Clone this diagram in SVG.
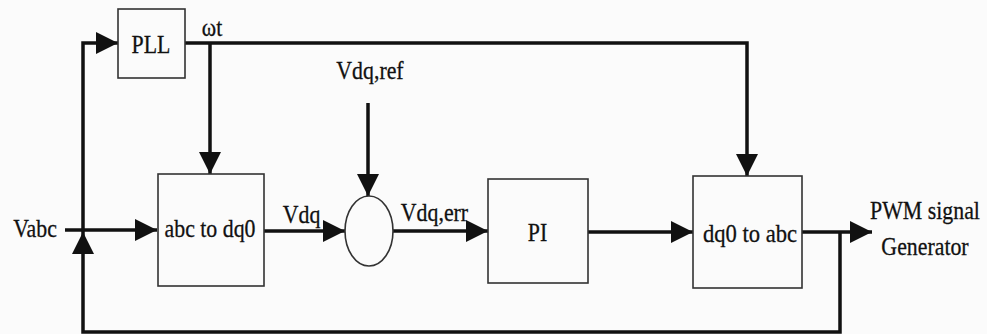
<svg xmlns="http://www.w3.org/2000/svg" width="987" height="334" viewBox="0 0 987 334">
<style>
.box{fill:none;stroke:#333;stroke-width:1.6}
.wire{fill:none;stroke:#111;stroke-width:3.5}
.t{font-family:"Liberation Serif","Times New Roman",serif;font-size:26px;fill:#111;stroke:#111;stroke-width:0.3;text-anchor:middle}
</style>
<defs>
<marker id="ah" markerUnits="userSpaceOnUse" markerWidth="22" markerHeight="22" refX="22" refY="11" orient="auto">
<path d="M0,0 L22,11 L0,22 z" fill="#111"/>
</marker>
</defs>
<rect width="987" height="334" fill="#fbfbfb"/>
<g id="connectors">
<path class="wire" d="M65,230 H157" marker-end="url(#ah)"/>
<path class="wire" d="M840,232 V332 H83 V232" marker-end="url(#ah)"/>
<path class="wire" d="M83,232 V43 H118" marker-end="url(#ah)"/>
<path class="wire" d="M185,43 H747 V176" marker-end="url(#ah)"/>
<path class="wire" d="M210,43 V174" marker-end="url(#ah)"/>
<path class="wire" d="M264,231 H345" marker-end="url(#ah)"/>
<path class="wire" d="M368,103 V196" marker-end="url(#ah)"/>
<path class="wire" d="M393,231 H488" marker-end="url(#ah)"/>
<path class="wire" d="M588,232 H693" marker-end="url(#ah)"/>
<path class="wire" d="M802,232 H872" marker-end="url(#ah)"/>
</g>
<g id="pll">
<rect class="box" x="118" y="9" width="67" height="69"/>
<text class="t" transform="translate(151,53) scale(0.84,1)">PLL</text>
</g>
<g id="abc2dq0">
<rect class="box" x="158" y="174" width="106" height="112"/>
<text class="t" transform="translate(210,237) scale(0.84,1)">abc to dq0</text>
</g>
<g id="sum">
<ellipse class="box" cx="369" cy="231" rx="24" ry="35"/>
</g>
<g id="pi">
<rect class="box" x="488" y="179" width="100" height="104"/>
<text class="t" transform="translate(537.5,241) scale(0.84,1)">PI</text>
</g>
<g id="dq02abc">
<rect class="box" x="693" y="176" width="109" height="112"/>
<text class="t" transform="translate(750,242) scale(0.87,1)">dq0 to abc</text>
</g>
<g id="labels">
<text class="t" transform="translate(212,36) scale(0.84,1)">ωt</text>
<text class="t" transform="translate(370,79) scale(0.84,1)">Vdq,ref</text>
<text class="t" transform="translate(35,237) scale(0.84,1)">Vabc</text>
<text class="t" transform="translate(301.5,223) scale(0.84,1)">Vdq</text>
<text class="t" transform="translate(434.5,221) scale(0.84,1)">Vdq,err</text>
<text class="t" transform="translate(925,219) scale(0.84,1)">PWM signal</text>
<text class="t" transform="translate(925,255) scale(0.84,1)">Generator</text>
</g>
</svg>
